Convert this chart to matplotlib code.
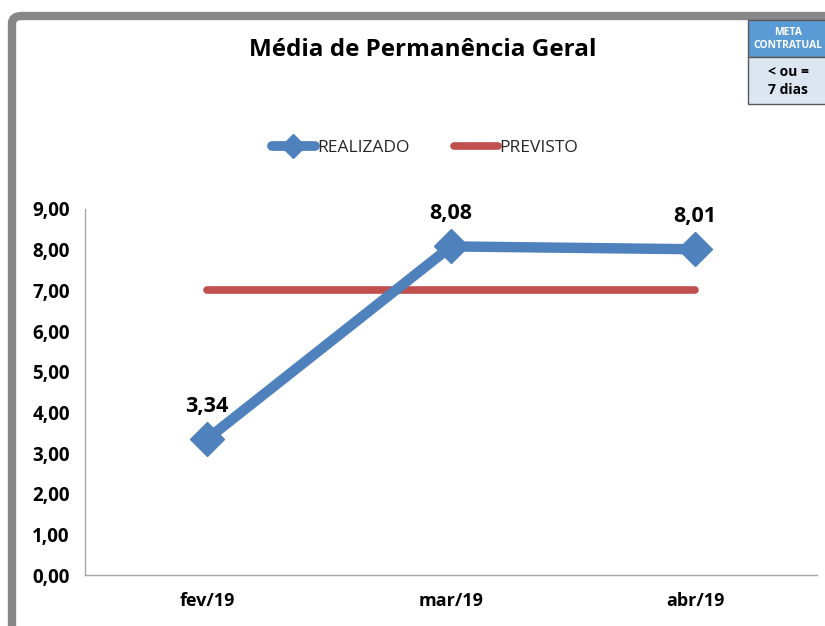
import matplotlib.pyplot as plt
from matplotlib.patches import FancyBboxPatch, Rectangle
from matplotlib.lines import Line2D

meses = ['fev/19', 'mar/19', 'abr/19']
realizado = [3.34, 8.08, 8.01]
previsto = [7.0, 7.0, 7.0]
yticks = [0, 1, 2, 3, 4, 5, 6, 7, 8, 9]

plt.rcParams['font.family'] = ['Open Sans', 'DejaVu Sans']

W, H = 825, 626
fig = plt.figure(figsize=(W / 100, H / 100), dpi=100)

# gray frame (cut off at right and bottom)
frame = FancyBboxPatch((12 / W, -0.1), 1.2, 1 - 16 / H + 0.1,
                       boxstyle='round,pad=0,rounding_size=0.012',
                       transform=fig.transFigure, fill=False,
                       edgecolor='#878787', linewidth=6)
fig.patches.append(frame)

ax = fig.add_axes([85 / W, 1 - 575 / H, (817 - 85) / W, (575 - 209) / H])
x = range(len(meses))
ax.plot(x, previsto, color='#C0504D', linewidth=5.5, solid_capstyle='round', zorder=2)
ax.plot(x, realizado, color='#4F81BD', linewidth=7.5, marker='D', markersize=17,
        solid_capstyle='round', zorder=3)
for i, v in enumerate(realizado):
    ax.annotate(f'{v:.2f}'.replace('.', ','), (i, v), xytext=(0, 16),
                textcoords='offset points', ha='center', va='bottom',
                fontsize=15.5, fontweight='bold')

ax.set_xlim(-0.5, 2.5)
ax.set_ylim(0, 9)
ax.set_yticks(yticks)
ax.set_yticklabels([f'{t:.2f}'.replace('.', ',') for t in yticks],
                   fontsize=13.5, fontweight='bold')
ax.set_xticks(list(x))
ax.set_xticklabels(meses, fontsize=13, fontweight='bold')
ax.tick_params(length=0)
ax.tick_params(axis='y', pad=11)
ax.tick_params(axis='x', pad=12)
for s in ['top', 'right']:
    ax.spines[s].set_visible(False)
for s in ['left', 'bottom']:
    ax.spines[s].set_color('#A6A6A6')
    ax.spines[s].set_linewidth(1)

fig.text(423 / W, 1 - 50 / H, 'Média de Permanência Geral', ha='center', va='center',
         fontsize=17.5, fontweight='bold')

handles = [Line2D([], [], color='#4F81BD', linewidth=7, marker='D', markersize=12,
                  solid_capstyle='round'),
           Line2D([], [], color='#C0504D', linewidth=5.5, solid_capstyle='round')]
fig.legend(handles, ['REALIZADO', 'PREVISTO'], loc='center',
           bbox_to_anchor=(425 / W, 1 - 148 / H), ncol=2, frameon=False,
           fontsize=12.5, handlelength=2.5, handletextpad=0.1, columnspacing=2.6,
           labelcolor='#262626')

# META box
fig.patches.append(Rectangle((748 / W, 1 - 57 / H), 90 / W, 37 / H,
                             transform=fig.transFigure, facecolor='#5B9BD5',
                             edgecolor='#595959', linewidth=1))
fig.patches.append(Rectangle((748 / W, 1 - 104 / H), 90 / W, 47 / H,
                             transform=fig.transFigure, facecolor='#DCE6F1',
                             edgecolor='#595959', linewidth=1))
fig.text(788 / W, 1 - 39 / H, 'META\nCONTRATUAL', ha='center', va='center',
         fontsize=7.5, fontweight='bold', color='white', linespacing=1.3)
fig.text(788 / W, 1 - 81 / H, '< ou =\n7 dias', ha='center', va='center',
         fontsize=10, fontweight='bold', color='black', linespacing=1.3)

fig.savefig('out.png', dpi=100)
